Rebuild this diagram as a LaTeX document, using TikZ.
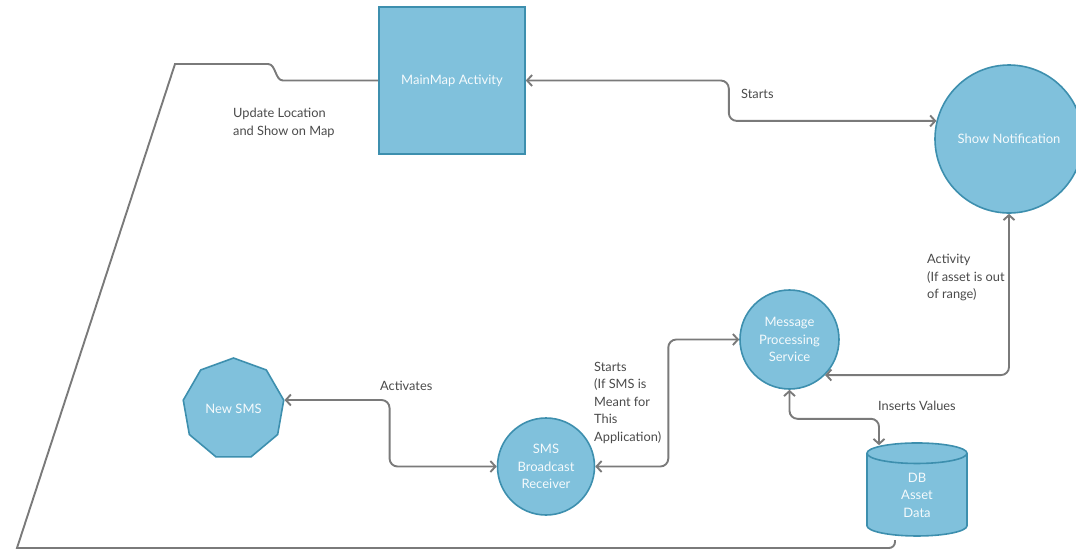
\documentclass[tikz,border=0pt]{standalone}
\usepackage{fontspec}
\setmainfont{Lato}
\usetikzlibrary{arrows.meta,shapes.geometric}
\definecolor{nodefill}{HTML}{80C1DC}
\definecolor{nodeline}{HTML}{3D8FAE}
\definecolor{wire}{HTML}{7A7A7A}
\definecolor{labeltext}{HTML}{4A4A4A}
\begin{document}
\begin{tikzpicture}[x=1pt,y=-1pt,
  shapebox/.style={draw=nodeline, fill=nodefill, line width=1.6pt, text=white!92!nodefill,
    font=\fontsize{13}{17.5}\selectfont, align=center, inner sep=0pt},
  conn/.style={draw=wire, line width=1.9pt},
  bothtips/.style={{Straight Barb[length=5pt,width=11pt]}-{Straight Barb[length=5pt,width=11pt]}},
  lbl/.style={text=labeltext, font=\fontsize{12.8}{17.5}\selectfont, align=left,
    anchor=north west, inner sep=0pt}]
\useasboundingbox (0,0) rectangle (1076,550);

% components
\node[shapebox, rectangle, minimum width=146pt, minimum height=147pt] (main) at (452,80.5) {MainMap Activity};
\node[shapebox, circle, minimum size=148pt] (notif) at (1009,139) {Show Notification};
\node[shapebox, regular polygon, regular polygon sides=9, minimum size=102pt] (newsms) at (233.5,409) {New SMS};
\node[shapebox, circle, minimum size=97pt] (sms) at (546,466.5) {SMS\\Broadcast\\Receiver};
\node[shapebox, circle, minimum size=99pt] (mps) at (789.5,339.5) {Message\\Processing\\Service};
\node[shapebox, cylinder, shape border rotate=90, aspect=0.65, minimum width=100pt, minimum height=93pt] (db) at (917,495) {DB\\Asset\\Data};
\coordinate (dbout) at (895,540);

% connectors
\draw[conn, bothtips, rounded corners=8pt] (main.east) -- ++(203,0) |- (notif.166);
\draw[conn, bothtips, rounded corners=8pt] (newsms.10) -- ++(105,0) |- (sms.west);
\draw[conn, bothtips, rounded corners=8pt] (sms.east) -- ++(73,0) |- (mps.west);
\draw[conn, bothtips, rounded corners=8pt] (mps.-45) -| (notif.south);
\draw[conn, bothtips, rounded corners=8pt] (mps.south) -- ++(0,29) -| ([xshift=-38pt,yshift=-3pt]db.north);
\draw[conn] (dbout) [rounded corners=6pt] -- (895,548) -- (600,548) [sharp corners] -- (17,548) -- (175,64) -- (268,64)
  .. controls (276,64) and (275,80.5) .. (283,80.5) -- (main.west);

% connector labels
\node[lbl] (l1) at (741,89) {Starts};
\node[lbl] (l2) at (233,108) {Update Location\\and Show on Map};
\node[lbl] (l3) at (380,381) {Activates};
\node[lbl] (l4) at (594,362) {Starts\\(If SMS is\\Meant for\\This\\Application)};
\node[lbl] (l5) at (927,254) {Activity\\(If asset is out\\of range)};
\node[lbl] (l6) at (878,401) {Inserts Values};
\end{tikzpicture}
\end{document}
